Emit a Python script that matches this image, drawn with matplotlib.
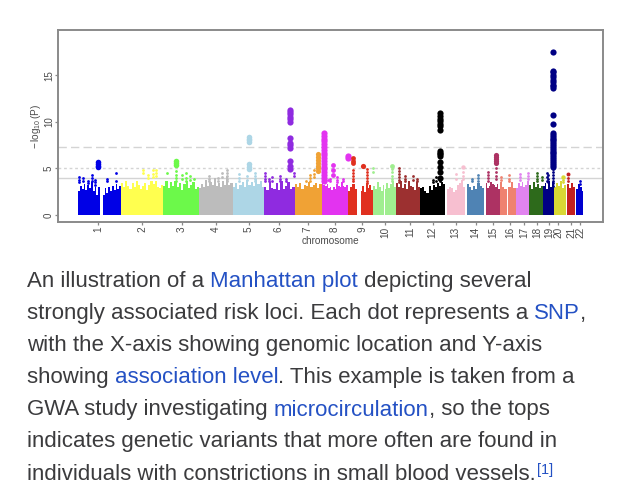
import matplotlib
matplotlib.use("Agg")
import matplotlib.pyplot as plt

plt.rcParams["font.family"] = ["Liberation Sans", "DejaVu Sans"]
plt.rcParams["mathtext.fontset"] = "custom"
plt.rcParams["mathtext.rm"] = "Liberation Sans"
plt.rcParams["mathtext.default"] = "regular"

W, H = 634, 500

# x values are genome position on the plot's own scale
chrom_labels = [str(i) for i in range(1, 23)]
chrom_ticks = [98, 142, 182, 216, 249, 279, 308, 335, 362, 385, 410, 432.7,
               455.7, 475.7, 493, 510, 524, 537, 549, 558, 571, 580]
chrom_colors = ["#0000e6", "#ffff4f", "#6cf94a", "#bcbcbc", "#add6e6", "#8f2be0",
                "#f0a235", "#e333f0", "#e0301f", "#a0ee90", "#9c3030", "#000000",
                "#f7bfd0", "#4f83b4", "#ad3263", "#ef8270", "#e184ef", "#2d6a1b",
                "#000084", "#d9d835", "#c32020", "#0000cf"]
y_ticks = [0, 5, 10, 15]
threshold_lines = [7.3, 5.0, 4.0]

# solid part of each chromosome: start, end and the skyline across it
block_chrom = [1, 1, 2, 3, 4, 5, 6, 7, 8, 9, 9, 10, 11, 12, 13, 14, 15, 16, 16, 17, 18, 19, 20, 21, 22]
block_start = [78, 102.7, 121, 163, 199, 232.5, 264, 294.5, 321.7, 347.7, 360.7, 372.7, 396.3,
               420.3, 447, 467, 485.7, 500, 508, 515.7, 529.3, 542.7, 554, 567.3, 576.3]
block_end = [100, 121, 163, 199, 232.5, 264, 294.5, 321.7, 347.7, 357, 372.7, 396.3, 420.3,
             445, 465, 483.7, 500, 506.7, 515.7, 529.3, 542.7, 554, 566, 574.7, 583.3]
block_tops = [
    [2.6, 3.1, 2.8, 3.3, 2.7, 3.2, 2.9, 3.5, 2.6, 3.0, 2.2, 3.0],
    [2.2, 2.9, 2.4, 3.0, 2.6, 3.1, 2.7, 3.3, 2.8, 3.1],
    [3.4, 3.0, 3.6, 3.1, 2.8, 3.4, 3.0, 3.7, 3.2, 2.8, 3.1, 3.4, 2.7, 3.2, 3.7, 3.3, 3.6, 3.0, 2.9, 3.2],
    [3.1, 3.6, 2.9, 3.5, 3.1, 3.7, 3.0, 3.4, 2.7, 3.3, 3.6, 2.9, 3.2, 3.5, 2.8, 3.0],
    [2.9, 3.3, 3.0, 3.8, 3.1, 3.5, 3.2, 4.0, 3.1, 3.4, 3.0, 3.6, 3.2, 4.2, 3.2, 3.4],
    [3.0, 3.4, 2.8, 3.2, 3.5, 3.0, 3.8, 3.2, 3.5, 3.1, 3.9, 3.3, 3.6, 3.0],
    [3.0, 2.7, 3.5, 2.9, 2.8, 3.4, 2.7, 3.6, 2.8, 3.1, 3.5, 2.8, 3.0],
    [3.3, 3.0, 3.4, 2.8, 3.2, 3.1, 3.5, 3.0, 3.2, 3.4, 2.9, 3.3],
    [3.4, 3.2, 3.1, 3.3, 2.9, 3.0, 2.7, 3.0, 2.8, 3.3, 3.1, 3.0, 3.5, 3.1, 3.0, 3.2],
    [2.6, 3.0, 3.3, 2.8],
    [2.6, 3.1, 2.5, 3.4, 2.9, 3.2, 2.7],
    [3.1, 2.8, 3.5, 3.0, 2.6, 3.2, 2.8, 3.4, 2.9, 3.3, 3.7, 3.0],
    [3.4, 3.0, 3.6, 2.9, 3.3, 2.8, 3.6, 3.1, 3.0, 2.7, 3.5, 3.0],
    [2.9, 3.0, 2.6, 2.4, 3.1, 2.7, 3.2, 3.0, 3.4, 3.1, 3.5, 3.3],
    [2.8, 3.0, 2.9, 2.5, 2.7, 3.2, 3.4, 3.8, 3.0],
    [3.3, 3.0, 2.7, 3.1, 2.8, 3.4, 3.1, 2.9],
    [3.4, 2.9, 3.1, 3.5, 3.3, 3.2, 3.0, 3.3, 2.8],
    [3.5, 3.0, 2.8],
    [3.0, 3.5, 2.9],
    [2.9, 3.4, 3.1, 3.5, 3.0, 3.2, 3.6],
    [3.2, 2.8, 3.5, 3.0, 3.3, 2.9, 3.1],
    [3.1, 3.4, 2.8, 3.6, 3.0, 3.5],
    [3.0, 3.4, 3.1, 3.6, 2.9, 3.2],
    [3.3, 2.9, 3.4, 3.0],
    [2.8, 3.3, 3.0, 2.6],
]

# strong hits, big dots
peak_chrom = [1, 3, 5, 5, 6, 7, 8, 8, 8, 9, 9, 10, 12, 13, 15, 19, 20, 21]
peak_x = [97.7, 176, 248.5, 248.5, 290, 317.7, 324.3, 333.3, 347.7, 352.7, 362.7, 392.3, 440, 463.3, 496, 552.7, 563.3, 568]
peak_y = [
    [5.7, 5.5, 5.3, 5.1],
    [5.8, 5.6, 5.4],
    [8.4, 8.2, 8.0, 7.8],
    [5.5, 5.2, 4.9],
    [11.3, 11.0, 10.8, 10.5, 10.3, 10.0, 8.3, 7.7, 7.5, 7.2, 5.8, 5.3, 4.9],
    [6.5, 6.2, 5.9, 5.6, 5.3, 5.0, 4.7],
    [8.8, 8.5, 8.2, 7.9, 7.6, 7.3, 7.0, 6.7, 6.4, 6.1, 5.8, 5.5, 5.2, 4.9, 4.6, 4.3, 4.0, 3.7],
    [5.35, 4.8, 4.3],
    [6.3, 6.1],
    [6.1, 5.8, 5.6],
    [5.3],
    [5.3],
    [10.9, 10.6, 10.3, 10.1, 9.8, 9.6, 9.1, 6.9, 6.7, 6.5, 6.3, 5.7, 5.2, 4.6, 4.0],
    [5.1],
    [6.4, 6.2, 6.0, 5.8, 5.6],
    [17.5, 15.5, 15.3, 15.0, 14.8, 14.5, 14.3, 14.0, 13.8, 13.6, 10.75, 9.75, 8.8, 8.6, 8.4, 8.2, 8.0, 7.8,
     7.6, 7.4, 7.2, 7.0, 6.8, 6.6, 6.4, 6.2, 6.0, 5.8, 5.6, 5.4, 5.2],
    [4.1],
    [4.4],
]
peak_size = [16, 16, 16, 16, 20, 14, 20, 12, 20, 12, 14, 12, 20, 10, 14, 20, 10, 8]

# smaller points rising out of the blocks
spike_chrom = [1, 1, 1, 1, 1, 1, 1, 2, 2, 2, 2, 3, 3, 3, 3, 3, 3, 4, 4, 4, 4, 5, 5, 5, 6, 6, 6, 6, 6, 6,
               7, 7, 7, 8, 8, 8, 8, 9, 9, 10, 10, 11, 11, 11, 11, 12, 12, 12, 13, 13, 14, 14, 15, 15,
               16, 16, 17, 17, 18, 18, 19, 19, 19, 20, 21, 22]
spike_x = [79.3, 83.3, 87.7, 92, 95, 106.7, 116, 143, 148, 153, 156, 167, 176, 182, 190, 186, 194,
           209, 218, 222, 227, 239, 247, 255, 265, 272, 280, 286, 294, 269, 310, 314, 306, 330, 337, 343, 328,
           352.7, 366.7, 373, 392.3, 399, 405, 413, 417, 433, 436, 440, 455.7, 463.3, 477.7, 472,
           488.3, 496, 501, 509, 520, 528, 536.7, 542, 546.7, 552.7, 548, 563.3, 568, 580]
spike_y = [
    [4.1, 3.8, 3.5], [4.0, 3.7], [3.7, 3.4], [4.3, 4.0, 3.7], [3.8, 3.5, 3.2], [3.9, 3.6], [4.5, 3.6],
    [4.8, 4.5], [4.3, 4.0], [4.8, 4.4, 4.1], [4.8, 4.5, 4.2],
    [4.5], [4.7, 4.3, 4.0, 3.7], [4.3, 3.9], [4.2, 3.8], [4.5, 4.0, 3.6], [3.9],
    [4.2, 3.9, 3.6], [4.0, 3.7], [4.5, 4.1], [4.8, 4.5, 4.2, 3.9, 3.6],
    [4.4, 4.0, 3.7], [4.2, 3.8], [4.5, 4.2, 3.9, 3.6],
    [4.5, 4.2, 3.9, 3.6], [4.1, 3.7], [4.2, 3.9, 3.6], [3.9, 3.6], [4.5, 4.2], [3.9, 3.6],
    [4.3, 4.0, 3.7], [4.8, 4.4, 4.1], [3.7],
    [3.9, 3.6], [4.1, 3.8, 3.5], [3.9, 3.6], [3.8],
    [4.8, 4.5, 4.2, 3.9, 3.6], [4.9, 4.6, 4.3, 4.0, 3.7, 3.4], [5.0, 4.6], [4.9, 4.6, 4.2, 3.9, 3.6],
    [5.0, 4.7, 4.4, 4.1, 3.8, 3.5], [4.2, 3.9, 3.6], [4.2, 3.8], [3.9, 3.6],
    [3.8, 3.5], [4.1, 3.7], [3.9, 3.6],
    [4.4, 3.9], [4.6, 4.2, 3.9],
    [4.3, 4.0, 3.7], [3.9, 3.6],
    [4.6, 4.3, 4.0, 3.7], [5.0, 4.6, 4.2, 3.9],
    [4.1, 3.8], [4.3, 3.9, 3.6], [4.4, 4.1, 3.8], [4.5, 4.2, 3.9],
    [4.5, 4.2, 3.9, 3.6], [4.1, 3.8], [4.5, 4.1, 3.7], [4.9, 4.6, 4.3, 4.0, 3.7, 3.4, 3.1], [4.3, 3.9, 3.5],
    [3.8, 3.5], [4.0, 3.6], [3.6, 3.3],
]

# caption, one list of (text, is_link) runs per line
caption_lines = [
    [("An illustration of a ", False), ("Manhattan plot", True), (" depicting several", False)],
    [("strongly associated risk loci. Each dot represents a ", False), ("SNP", True), (",", False)],
    [("with the X-axis showing genomic location and Y-axis", False)],
    [("showing ", False), ("association level", True), (". This example is taken from a", False)],
    [("GWA study investigating ", False), ("microcirculation", True), (", so the tops", False)],
    [("indicates genetic variants that more often are found in", False)],
    [("individuals with constrictions in small blood vessels.", False)],
]
caption_baselines = [287, 319, 351, 383, 415.5, 447.5, 480]

fig = plt.figure(figsize=(W / 100, H / 100), dpi=100, facecolor="white")

# axes box: x 58-603 px, y 30-222 px
ax = fig.add_axes([58 / W, 1 - 222 / H, 545 / W, 192 / H])
ax.set_xlim(58, 603)
ax.set_ylim(-0.75, 19.85)

for level, ls in zip(threshold_lines, [(0, (6, 3)), (0, (2, 2)), "-"]):
    ax.axhline(level, color="#d4d4d4", lw=1.0, ls=ls, zorder=1)

for chrom, start, end, tops in zip(block_chrom, block_start, block_end, block_tops):
    step = (end - start) / len(tops)
    lefts = [start + i * step for i in range(len(tops))]
    ax.bar(lefts, [t + 0.05 for t in tops], width=step, bottom=-0.05, align="edge",
           color=chrom_colors[chrom - 1], lw=0, zorder=2)

for chrom, x, ys in zip(spike_chrom, spike_x, spike_y):
    ax.scatter([x] * len(ys), ys, s=4, color=chrom_colors[chrom - 1], lw=0, zorder=3)

for chrom, x, ys, size in zip(peak_chrom, peak_x, peak_y, peak_size):
    ax.scatter([x] * len(ys), ys, s=size, color=chrom_colors[chrom - 1], lw=0, zorder=4)

for side in ax.spines.values():
    side.set_color("#8a8a8a")
    side.set_linewidth(1.4)

ax.set_xticks(chrom_ticks)
ax.set_xticklabels(chrom_labels, rotation=90, fontsize=7.2, color="#4a4a4a")
ax.set_yticks(y_ticks)
ax.set_yticklabels([str(v) for v in y_ticks], rotation=90, va="center", fontsize=7, color="#4a4a4a")
ax.tick_params(axis="both", color="#8a8a8a", width=0.9, length=2, pad=1.5)
ax.tick_params(axis="y", pad=1)
ax.set_xlabel("chromosome", fontsize=7.2, color="#4a4a4a")
ax.xaxis.set_label_coords((330 - 58) / 545, (222 - 236) / 192)
ax.set_ylabel(r"$-\,\log_{10}(P)$", fontsize=7.2, color="#4a4a4a")
ax.yaxis.set_label_coords((43 - 58) / 545, (222 - 126) / 192)

# caption drawn in pixel coordinates on a full-figure layer
layer = fig.add_axes([0, 0, 1, 1], facecolor="none")
layer.set_xlim(0, W)
layer.set_ylim(H, 0)
layer.axis("off")

TEXT_COLOR = "#3b3b3d"
LINK_COLOR = "#2451c4"
CAPTION_SIZE = 16.0
renderer = fig.canvas.get_renderer()


def run_width(s, size):
    # the bars keep leading and trailing spaces in the measure
    probe = layer.text(0, 0, "|" + s + "|", fontsize=size)
    bar = layer.text(0, 0, "||", fontsize=size)
    w = probe.get_window_extent(renderer).width - bar.get_window_extent(renderer).width
    probe.remove()
    bar.remove()
    return w


for runs, base in zip(caption_lines, caption_baselines):
    x = 27
    for s, is_link in runs:
        layer.text(x, base, s, fontsize=CAPTION_SIZE, va="baseline", ha="left",
                   color=LINK_COLOR if is_link else TEXT_COLOR)
        x += run_width(s, CAPTION_SIZE)

layer.text(x + 1, 474, "[1]", fontsize=10.5, va="baseline", ha="left", color=LINK_COLOR)

fig.savefig("out.png", dpi=100)
